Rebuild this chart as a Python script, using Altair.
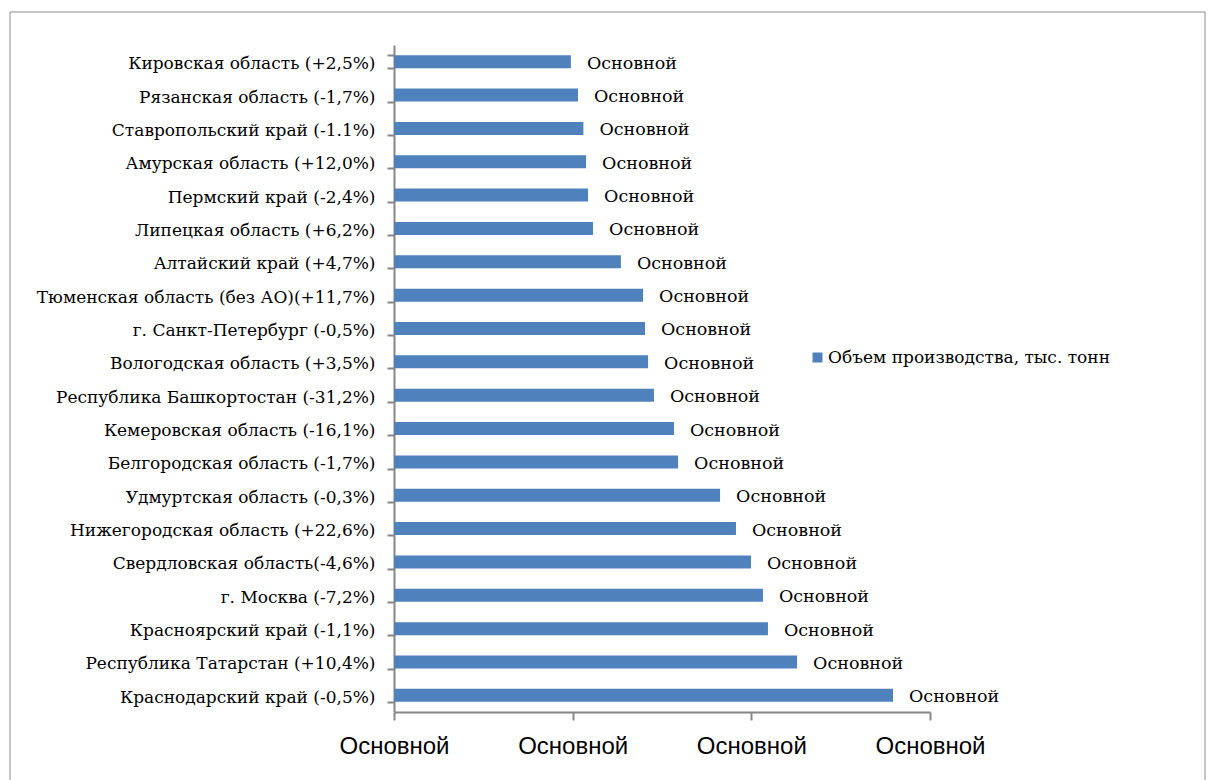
import altair as alt
import pandas as pd

regions = [
    "Кировская область (+2,5%)",
    "Рязанская область (-1,7%)",
    "Ставропольский край (-1.1%)",
    "Амурская область (+12,0%)",
    "Пермский край (-2,4%)",
    "Липецкая область (+6,2%)",
    "Алтайский край (+4,7%)",
    "Тюменская область (без АО)(+11,7%)",
    "г. Санкт-Петербург (-0,5%)",
    "Вологодская область (+3,5%)",
    "Республика Башкортостан (-31,2%)",
    "Кемеровская область (-16,1%)",
    "Белгородская область (-1,7%)",
    "Удмуртская область (-0,3%)",
    "Нижегородская область (+22,6%)",
    "Свердловская область(-4,6%)",
    "г. Москва (-7,2%)",
    "Красноярский край (-1,1%)",
    "Республика Татарстан (+10,4%)",
    "Краснодарский край (-0,5%)",
]
values = [99.0, 103.0, 106.0, 107.5, 108.6, 111.4, 127.0, 139.4, 140.5, 142.2,
          145.5, 156.7, 159.0, 182.5, 191.4, 199.8, 206.5, 209.3, 225.6, 279.3]
bar_labels = ["Основной"] * len(regions)
tick_values = [0, 100, 200, 300]
tick_label = "Основной"
series_name = "Объем производства, тыс. тонн"

df = pd.DataFrame({
    "region": regions,
    "value": values,
    "label": bar_labels,
    "series": [series_name] * len(regions),
})

serif = "DejaVu Serif"
gray = "#868686"

y_enc = alt.Y(
    "region:N",
    sort=regions,
    scale=alt.Scale(paddingInner=0.6, paddingOuter=0.3),
    axis=alt.Axis(
        title=None,
        labelFont=serif,
        labelFontSize=17,
        labelColor="black",
        labelLimit=500,
        labelPadding=12,
        labelOffset=2,
        tickSize=7,
        tickColor=gray,
        tickWidth=2,
        domainColor=gray,
        domainWidth=2,
        tickBand="extent",
    ),
)
x_enc = alt.X(
    "value:Q",
    scale=alt.Scale(domain=[0, 300], nice=False),
    axis=alt.Axis(
        title=None,
        values=tick_values,
        labelExpr=f"'{tick_label}'",
        labelFont="Liberation Sans",
        labelFontSize=24,
        labelColor="black",
        labelPadding=14,
        tickSize=8,
        tickColor=gray,
        tickWidth=2,
        domainColor=gray,
        domainWidth=2,
        grid=False,
        labelFlush=False,
        labelOverlap=False,
    ),
)

bars = alt.Chart(df).mark_bar(size=13).encode(
    y=y_enc,
    x=x_enc,
    color=alt.Color(
        "series:N",
        scale=alt.Scale(range=["#4F81BD"]),
        legend=alt.Legend(
            title=None,
            orient="none",
            legendX=415,
            legendY=304,
            symbolType="square",
            symbolSize=100,
            symbolStrokeWidth=0,
            labelFont=serif,
            labelFontSize=17,
            labelColor="black",
            labelOffset=2,
            padding=0,
            labelLimit=500,
        ),
    ),
)

texts = alt.Chart(df).mark_text(
    align="left", baseline="middle", dx=16, dy=2, font=serif, fontSize=17.5, color="black"
).encode(
    y=alt.Y("region:N", sort=regions),
    x="value:Q",
    text="label:N",
)

frame = alt.Chart(pd.DataFrame({"f": [1]})).mark_rect(
    filled=False, stroke="#8c8c8c", strokeWidth=1
).encode(
    x=alt.value(-384), x2=alt.value(811), y=alt.value(-33), y2=alt.value(760)
)

chart = alt.layer(frame, bars, texts).properties(
    width=536,
    height=667,
    padding={"left": 386, "top": 37, "right": 278, "bottom": 68},
    autosize=alt.AutoSizeParams(type="none"),
).configure_view(stroke=None)

chart.save("out.html", embed_options={"renderer": "svg", "actions": False})
